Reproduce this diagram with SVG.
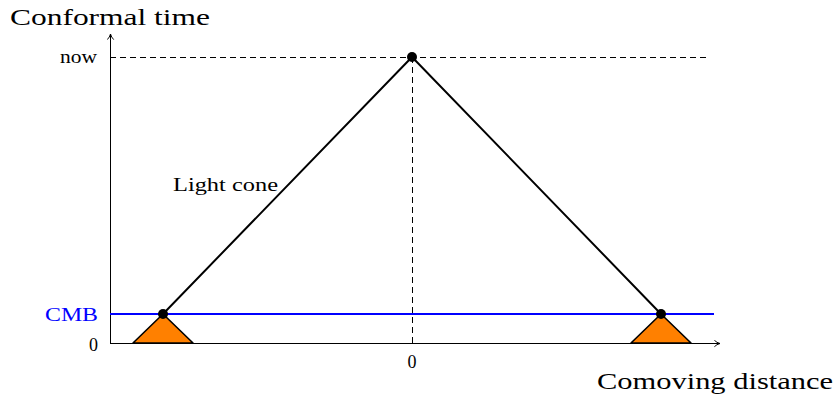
<svg xmlns="http://www.w3.org/2000/svg" width="838" height="400" viewBox="0 0 838 400">
<style>
text{font-family:"Liberation Serif","DejaVu Serif",serif;fill:#000}
.big{font-size:24px}
.sm{font-size:18px}
.axis{stroke:#000;stroke-width:1;fill:none}
.dash{stroke:#000;stroke-width:1;stroke-dasharray:6,4;fill:none}
.cone{stroke:#000;stroke-width:2;fill:none}
.tri{fill:#ff8000;stroke:#000;stroke-width:1.6;stroke-linejoin:round}
</style>
<defs>
<marker id="ah" viewBox="0 0 10 10" refX="9" refY="5" markerWidth="8" markerHeight="8" orient="auto" markerUnits="userSpaceOnUse">
<path d="M2,1 Q5,4 9,5 Q5,6 2,9" fill="none" stroke="#000" stroke-width="1.2"/>
</marker>
</defs>
<rect width="838" height="400" fill="#fff"/>
<g id="triangles">
<polygon class="tri" points="133,343 163,314 193,343"/>
<polygon class="tri" points="631,343 661,314 691,343"/>
</g>
<g id="connectors">
<line class="dash" x1="110" y1="57.5" x2="710" y2="57.5"/>
<line class="dash" x1="412.5" y1="57" x2="412.5" y2="343"/>
<line class="axis" x1="110.5" y1="343" x2="110.5" y2="34" marker-end="url(#ah)"/>
<line class="axis" x1="110" y1="343.5" x2="720" y2="343.5" marker-end="url(#ah)"/>
<line x1="110" y1="314" x2="714" y2="314" stroke="#0000ff" stroke-width="2"/>
<polyline class="cone" points="163,314 412,57 661,314"/>
</g>
<g id="dots">
<circle cx="412" cy="57" r="5"/>
<circle cx="163" cy="314" r="5"/>
<circle cx="661" cy="314" r="5"/>
</g>
<g id="labels">
<text class="big" x="10" y="25" textLength="200" lengthAdjust="spacingAndGlyphs">Conformal time</text>
<text class="big" x="597" y="389" textLength="236" lengthAdjust="spacingAndGlyphs">Comoving distance</text>
<text class="sm" x="60" y="63" textLength="37" lengthAdjust="spacingAndGlyphs">now</text>
<text class="sm" x="45" y="321" textLength="53" lengthAdjust="spacingAndGlyphs" style="fill:#0000ff">CMB</text>
<text class="sm" x="98" y="351" text-anchor="end">0</text>
<text class="sm" x="412" y="368" text-anchor="middle">0</text>
<text class="sm" x="173" y="191" textLength="105" lengthAdjust="spacingAndGlyphs">Light cone</text>
</g>
</svg>
